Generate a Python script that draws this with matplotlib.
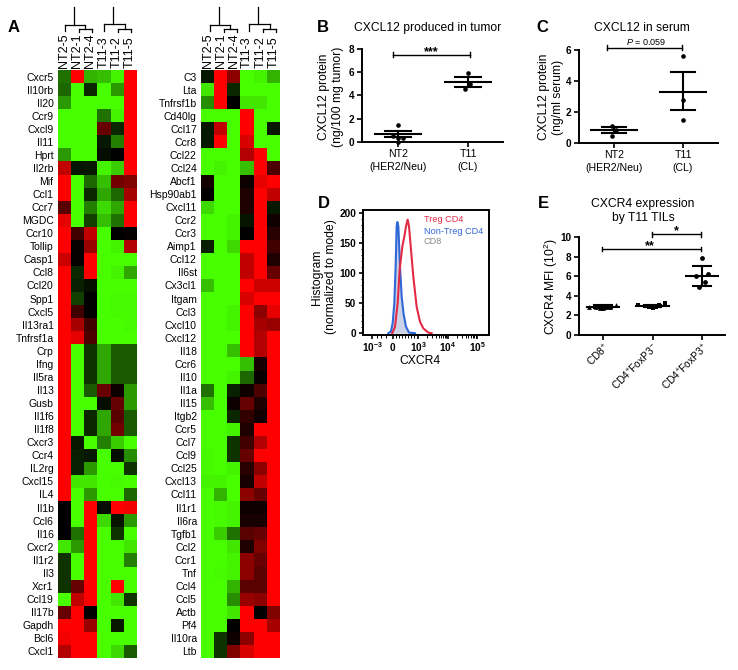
"""Heat maps and CXCL12 / CXCR4 panels."""
import matplotlib
matplotlib.use("Agg")
import matplotlib.pyplot as plt
from matplotlib.colors import LinearSegmentedColormap
import numpy as np

plt.rcParams["font.family"] = ["Liberation Sans", "DejaVu Sans"]
plt.rcParams["mathtext.fontset"] = "custom"
plt.rcParams["mathtext.rm"] = "Liberation Sans"
plt.rcParams["mathtext.bf"] = "Liberation Sans:bold"
plt.rcParams["mathtext.it"] = "Liberation Sans:italic"
plt.rcParams["mathtext.default"] = "regular"

W, H = 738, 670

samples = ["NT2-5", "NT2-1", "NT2-4", "T11-3", "T11-2", "T11-5"]

genes_left = ["Cxcr5", "Il10rb", "Il20", "Ccr9", "Cxcl9", "Il11", "Hprt", "Il2rb", "Mif",
              "Ccl1", "Ccr7", "MGDC", "Ccr10", "Tollip", "Casp1", "Ccl8", "Ccl20", "Spp1",
              "Cxcl5", "Il13ra1", "Tnfrsf1a", "Crp", "Ifng", "Il5ra", "Il13", "Gusb", "Il1f6",
              "Il1f8", "Cxcr3", "Ccr4", "IL2rg", "Cxcl15", "IL4", "Il1b", "Ccl6", "Il16",
              "Cxcr2", "Il1r2", "Il3", "Xcr1", "Ccl19", "Il17b", "Gapdh", "Bcl6", "Cxcl1"]
values_left = [
    [-.45, 1, -.7, -.75, -.95, 1], [-.4, -1, -.15, -1, -.6, 1], [-.6, -1, -1, -1, -1, 1],
    [-1, -1, -1, -.45, -.95, 1], [-1, -1, -1, .4, -.15, 1], [-1, -1, -1, -.1, -.5, 1],
    [-.6, -1, -1, -.05, 0, 1], [.75, -.08, -.1, -.95, -.8, 1], [1, -1, -.4, -.75, .45, .5],
    [1, -1, -.15, -.65, -.4, .65], [.35, -1, -.5, -.85, -.65, 1], [.9, -1, -.25, -.75, -.45, 1],
    [1, .25, .75, -1, 0, .03], [1, .03, .6, -1, -.95, .7], [.8, .03, 1, -1, -1, -1],
    [1, -.15, 1, -1, -.95, -.65], [1, -.12, -.06, -1, -1, -1], [1, -.25, 0, -1, -.98, -.98],
    [1, .25, 0, -1, -.98, -.98], [1, .65, .25, -1, -1, -.98], [1, .9, .3, -1, -1, -1],
    [1, -1, -.2, -.65, -.35, -.35], [1, -1, -.2, -.65, -.35, -.35], [1, -1, -.2, -.65, -.35, -.35],
    [1, -1, -.35, .4, .05, -.6], [1, -1, -1, -.05, .4, -.6], [1, -1, -.15, -.65, .35, -.35],
    [1, -1, -.15, -.65, .45, -.35], [1, -.1, -1, -.5, -.8, -1], [1, -.12, -.1, -1, -.05, -.55],
    [1, -.12, -.6, -1, -1, -.2], [1, -.9, -.9, -1, -.98, -1], [1, -1, -.6, -1, -1, -.4],
    [0, -1, 1, -.05, 1, .95], [0, -1, 1, -.85, -.08, -.6], [0, -.45, 1, -1, -.2, -1],
    [-.9, -.6, 1, -1, -1, -.9], [-.2, -1, 1, -1, -1, -.5], [-.2, -1, 1, -1, -1, -1],
    [-.2, .4, 1, -1, 1, -1], [-1, .75, 1, -1, -.9, -.2], [.4, 1, 0, -1, -1, -1],
    [1, 1, .6, -1, -.1, -1], [.95, 1, 1, -1, -1, -1], [.7, 1, 1, -1, -.85, -.35],
]

genes_right = ["C3", "Lta", "Tnfrsf1b", "Cd40lg", "Ccl17", "Ccr8", "Ccl22", "Ccl24", "Abcf1",
               "Hsp90ab1", "Cxcl11", "Ccr2", "Ccr3", "Aimp1", "Ccl12", "Il6st", "Cx3cl1", "Itgam",
               "Ccl3", "Cxcl10", "Cxcl12", "Il18", "Ccr6", "Il10", "Il1a", "Il15", "Itgb2", "Ccr5",
               "Ccl7", "Ccl9", "Ccl25", "Cxcl13", "Ccl11", "Il1r1", "Il6ra", "Tgfb1", "Ccl2",
               "Ccr1", "Tnf", "Ccl4", "Ccl5", "Actb", "Pf4", "Il10ra", "Ltb"]
values_right = [
    [-.1, 1, .55, -1, -.95, -.7], [-.9, 1, -.15, -1, -1, -1], [-.55, 1, 0, -.9, -.9, -1],
    [-1, -1, -1, 1, -1, -1], [-.1, .75, -1, 1, -1, -.1], [-.1, 1, -1, .85, -1, -1],
    [-1, -1, -1, .7, 1, -1], [-1, -.95, -1, -.75, 1, .3], [.08, -1, -1, .05, .9, 1],
    [0, -1, -1, .12, 1, .75], [-.85, -1, -1, .12, 1, -.1], [-1, -1, -.95, -.08, 1, .07],
    [-1, -1, -.95, 0, 1, .15], [-.12, -1, -.85, 1, 1, .25], [-1, -1, -1, .75, 1, .12],
    [-1, -1, -1, .75, 1, .4], [-.75, -1, -1, 1, .8, .8], [-1, -1, -1, .85, 1, 1],
    [-1, -1, -.95, 1, .55, .9], [-1, -1, -.95, 1, .65, .6], [-1, -1, -1, 1, .7, 1],
    [-1, -1, -.75, 1, .7, 1], [-1, -1, -1, -.75, .1, 1], [-1, -1, -.95, -.4, .03, 1],
    [-.45, -1, -.12, .06, .3, 1], [-.75, -1, .05, .4, .12, 1], [-1, -1, -.15, .2, .07, 1],
    [-1, -1, -.95, .12, 1, 1], [-1, -1, -.2, .25, .7, 1], [-.98, -1, -.2, .4, 1, 1],
    [-.98, -1, -.95, .15, .55, 1], [-.95, -.95, -1, .1, .75, 1], [-1, -.7, -1, .55, .4, 1],
    [-1, -.98, -.95, .05, .05, 1], [-1, -.98, -.95, .1, .1, 1], [-1, -.8, -.45, .35, .4, 1],
    [-1, -1, -.9, .12, .5, 1], [-1, -1, -.95, .55, .4, 1], [-1, -.98, -.95, .55, .35, 1],
    [-1, -1, -.7, .35, .35, 1], [-1, -1, -.55, .6, .55, 1], [-1, -1, -.9, 1, 0, .5],
    [-1, -1, 0, 1, 1, .65], [-1, -.2, .05, .55, 1, 1], [-1, -.2, .5, .85, 1, 1],
]

# panel B
b_groups = ["NT2\n(HER2/Neu)", "T11\n(CL)"]
b_means = [0.65, 5.15]
b_upper = [0.95, 5.55]
b_lower = [0.38, 4.75]
b_x = [[0, -.07, .07, 0, 0], [0, .03, -.04]]
b_y = [[1.4, .5, .35, .35, 0.0], [5.95, 4.95, 4.55]]

# panel C
c_means = [0.83, 3.3]
c_upper = [1.0, 4.55]
c_lower = [0.65, 2.1]
c_x = [[-.03, .03, -.03], [0, 0, 0]]
c_y = [[1.1, .8, .45], [5.6, 2.75, 1.5]]

# panel D, x is position on the biexponential axis
d_ticks = [-.71, 0, .85, 1.86, 2.85]
d_ticklabels = ["$\\mathbf{10^{-3}}$", "$\\mathbf{0}$", "$\\mathbf{10^{3}}$",
                "$\\mathbf{10^{4}}$", "$\\mathbf{10^{5}}$"]
blue_x = [-.158, -.068, -.011, .045, .09, .124, .147, .181, .237, .294, .362, .441, .542, .746]
blue_y = [0, 3, 17, 50, 111, 178, 185, 178, 111, 61, 31, 11, 1, 0]
red_x = [-.023, .068, .158, .226, .316, .384, .441, .497, .542, .61, .689, .802, .915, 1.028, 1.198, 1.311]
red_y = [0, 11, 50, 106, 144, 161, 178, 189, 178, 139, 94, 44, 19, 8, 1, 0]

# panel E
e_groups = ["CD8$^{+}$", "CD4$^{+}$FoxP3$^{-}$", "CD4$^{+}$FoxP3$^{+}$"]
e_means = [2.85, 2.95, 6.05]
e_upper = [3.0, 3.1, 7.05]
e_lower = [2.7, 2.8, 5.0]
e_x = [[-.29, -.14, -.07, 0, .07, .14, .27],
       [-.3, -.14, -.07, 0, .07, .14, .26],
       [0, -.12, .12, .06, -.06]]
e_y = [[2.85, 2.85, 2.75, 2.7, 2.8, 2.85, 3.1],
       [3.0, 2.95, 2.8, 2.75, 2.85, 3.0, 3.3],
       [7.85, 6.0, 6.25, 5.4, 4.85]]
e_markers = ["^", "s", "o"]

cmap = LinearSegmentedColormap.from_list("gbr", ["#48ff00", "#000000", "#ff0000"])


def px_axes(fig, left, top, right, bottom):
    """Add axes placed in reference pixels."""
    return fig.add_axes([left / W, 1 - bottom / H, (right - left) / W, (bottom - top) / H])


def heatmap(fig, left, right, values, genes):
    ax = px_axes(fig, left, 70, right, 657.7)
    ax.imshow(np.array(values), cmap=cmap, vmin=-1, vmax=1, aspect="auto", interpolation="nearest")
    ax.set_xticks(range(len(samples)))
    ax.set_xticklabels(samples, rotation=90, fontsize=9)
    ax.set_yticks(range(len(genes)))
    ax.set_yticklabels(genes, fontsize=7.5)
    ax.tick_params(axis="y", length=0, pad=3)
    ax.tick_params(axis="x", length=0, pad=1.5, top=True, labeltop=True, bottom=False, labelbottom=False)
    for s in ax.spines.values():
        s.set_visible(False)


def dendrogram(ov, dx):
    for xs, ys in [([74, 74], [7, 25]), ([65, 85], [25, 25]), ([65, 65], [25, 31]),
                   ([85, 85], [25, 29]), ([78.5, 92], [29, 29]), ([78.5, 78.5], [29, 32]),
                   ([92, 92], [29, 32]), ([113, 113], [7, 24]), ([104, 124.5], [24, 24]),
                   ([104, 104], [24, 31]), ([124.5, 124.5], [24, 29]), ([118, 131], [29, 29]),
                   ([118, 118], [29, 32]), ([131, 131], [29, 32])]:
        ov.plot(np.array(xs) + dx, ys, color="black", lw=0.9, solid_capstyle="projecting")


def style_axis(ax):
    ax.spines["top"].set_visible(False)
    ax.spines["right"].set_visible(False)
    ax.spines["left"].set_linewidth(1.4)
    ax.spines["bottom"].set_linewidth(1.4)
    ax.tick_params(width=1.2, length=3.5, pad=2, labelsize=7.2)
    for t in ax.get_yticklabels():
        t.set_fontweight("bold")
    ax.patch.set_alpha(0)


def scatter_panel(ax, means, upper, lower, px, py, half, cap, marker=None, size=11):
    for i in range(len(means)):
        ax.plot([i - half, i + half], [means[i]] * 2, color="black", lw=1.5)
        ax.plot([i, i], [lower[i], upper[i]], color="black", lw=1.5)
        ax.plot([i - cap, i + cap], [upper[i]] * 2, color="black", lw=1.5)
        ax.plot([i - cap, i + cap], [lower[i]] * 2, color="black", lw=1.5)
        m = marker[i] if marker else "o"
        ax.scatter(i + np.array(px[i]), py[i], s=size, color="black", marker=m, zorder=3,
                   linewidths=0, clip_on=False)


def bracket(ax, x0, x1, y, cap):
    ax.plot([x0, x1], [y, y], color="black", lw=1.0, clip_on=False)
    ax.plot([x0, x0], [y - cap, y + cap], color="black", lw=1.0, clip_on=False)
    ax.plot([x1, x1], [y - cap, y + cap], color="black", lw=1.0, clip_on=False)


fig = plt.figure(figsize=(W / 100, H / 100), dpi=100)

heatmap(fig, 57.7, 136, values_left, genes_left)
heatmap(fig, 201, 280, values_right, genes_right)

# B
ax = px_axes(fig, 362, 49, 503, 141.7)
ax.set_xlim(-36 / 70, 1 + 35 / 70)
ax.set_ylim(0, 8)
ax.set_xticks([0, 1])
ax.set_xticklabels(b_groups, fontsize=7.6, linespacing=1.35)
ax.set_yticks([0, 2, 4, 6, 8])
scatter_panel(ax, b_means, b_upper, b_lower, b_x, b_y, .33, .18)
bracket(ax, -.07, 1.03, 7.5, .22)
ax.text(.47, 7.72, "***", ha="center", va="center", fontsize=9, fontweight="bold")
style_axis(ax)
ax.tick_params(axis="x", labelsize=7.6, pad=2)

# C
ax = px_axes(fig, 579, 50, 718, 142.7)
ax.set_xlim(-35 / 69, 1 + 35 / 69)
ax.set_ylim(0, 6)
ax.set_xticks([0, 1])
ax.set_xticklabels(b_groups, fontsize=7.6, linespacing=1.35)
ax.set_yticks([0, 2, 4, 6])
scatter_panel(ax, c_means, c_upper, c_lower, c_x, c_y, .33, .17)
bracket(ax, -.1, .99, 6.15, .17)
ax.text(.46, 6.5, "$\\mathit{P}$ = 0.059", ha="center", va="center", fontsize=6.5)
style_axis(ax)
ax.tick_params(axis="x", labelsize=7.6, pad=2)

# D
ax = px_axes(fig, 363.3, 210, 489, 335)
ax.set_xlim((363.3 - 393) / 29.5, (489 - 393) / 29.5)
ax.set_ylim(-3, 205)
ax.fill_between(blue_x, blue_y, color="#c9d2e6", lw=0)
ax.plot(blue_x, blue_y, color="#2f66d8", lw=1.5)
ax.plot(red_x, red_y, color="#e32a45", lw=1.5)
ax.set_xticks(d_ticks)
ax.set_xticklabels(d_ticklabels)
ax.set_xticks([-.55, -.4, -.25, .1, .2, .3, .4, .5, .6, .7, 1.15, 1.33, 1.46, 1.55, 1.63, 1.7, 1.76, 1.81,
               2.16, 2.33, 2.46, 2.55, 2.63, 2.7, 2.76, 2.81], minor=True)
ax.set_yticks([0, 50, 100, 150, 200])
ax.set_yticks(range(10, 200, 10), minor=True)
for s in ax.spines.values():
    s.set_linewidth(1.4)
ax.tick_params(width=1.2, length=3, pad=2, labelsize=7.2)
ax.tick_params(axis="x", pad=1)
ax.tick_params(which="minor", width=.7, length=1.8)
for t in ax.get_yticklabels():
    t.set_fontweight("bold")

# E
ax = px_axes(fig, 579, 237.3, 725, 334.7)
ax.set_xlim(-24 / 49.5, 2 + 23 / 49.5)
ax.set_ylim(0, 10)
ax.set_xticks([0, 1, 2])
ax.set_xticklabels(e_groups, rotation=45, ha="right", rotation_mode="anchor")
ax.set_yticks([0, 2, 4, 6, 8, 10])
scatter_panel(ax, e_means, e_upper, e_lower, e_x, e_y, .33, .18, e_markers, 12)
bracket(ax, -.03, 1.97, 8.8, .25)
bracket(ax, .98, 1.97, 10.3, .25)
ax.text(.95, 9.1, "**", ha="center", va="center", fontsize=9, fontweight="bold")
ax.text(1.48, 10.6, "*", ha="center", va="center", fontsize=9, fontweight="bold")
style_axis(ax)
ax.tick_params(axis="x", labelsize=7.3, pad=1)

# pixel overlay for dendrograms, letters and free text
ov = fig.add_axes([0, 0, 1, 1])
ov.set_xlim(0, W)
ov.set_ylim(H, 0)
ov.axis("off")
ov.patch.set_alpha(0)
dendrogram(ov, 0)
dendrogram(ov, 145)

for letter, x, y in [("A", 14, 28), ("B", 323, 27), ("C", 542, 28), ("D", 324, 203), ("E", 543, 203)]:
    ov.text(x, y, letter, fontsize=12, fontweight="bold", ha="center", va="center")

ov.text(428, 28, "CXCL12 produced in tumor", fontsize=8.7, ha="center", va="center")
ov.text(642, 28, "CXCL12 in serum", fontsize=8.7, ha="center", va="center")
ov.text(643, 211, "CXCR4 expression\nby T11 TILs", fontsize=8.7, ha="center", va="center", linespacing=1.2)
ov.text(331, 97, "CXCL12 protein\n(ng/100 mg tumor)", fontsize=8.7, rotation=90, ha="center", va="center",
        linespacing=1.15)
ov.text(551, 97, "CXCL12 protein\n(ng/ml serum)", fontsize=8.7, rotation=90, ha="center", va="center",
        linespacing=1.15)
ov.text(324, 277, "Histogram\n(normalized to mode)", fontsize=8.7, rotation=90, ha="center", va="center",
        linespacing=1.15)
ov.text(551, 287, "CXCR4 MFI (10$^{2}$)", fontsize=8.7, rotation=90, ha="center", va="center")
ov.text(420, 361, "CXCR4", fontsize=8.7, ha="center", va="center")
ov.text(424, 220, "Treg CD4", fontsize=6.6, color="#e32a45", va="center")
ov.text(424, 231, "Non-Treg CD4", fontsize=6.6, color="#2f66d8", va="center")
ov.text(424, 242, "CD8", fontsize=6.6, color="#8a8a8a", va="center")

fig.savefig("out.png", dpi=100)
